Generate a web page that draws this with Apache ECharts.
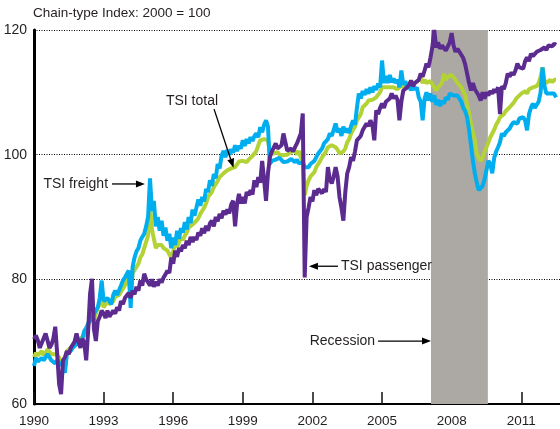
<!DOCTYPE html>
<html><head><meta charset="utf-8">
<script src="https://cdn.jsdelivr.net/npm/echarts@6/dist/echarts.min.js"></script>
<style>html,body{margin:0;padding:0;background:#fff}#c{width:560px;height:429px}</style>
</head><body><div id="c"></div>
<script>
// ---- data (monthly, starting January 1990) ----
const startYear = 1990;
const xTickLabels = ['1990','1993','1996','1999','2002','2005','2008','2011'];
const yTicks = [60, 80, 100, 120];
const recession = [2007.11, 2009.56];
const titleText = 'Chain-type Index: 2000 = 100';

const passenger = [
70.4,71.0,70.2,69.0,69.8,70.0,71.3,70.2,69.0,69.5,70.5,72.4,
68.0,63.2,61.6,67.0,67.5,68.5,68.0,69.0,69.5,70.0,71.3,70.0,
69.0,70.5,69.8,67.0,71.7,77.7,80.1,72.0,70.1,73.3,74.0,75.0,
74.5,73.8,75.0,74.0,74.2,75.0,74.5,75.5,75.0,76.5,76.0,77.0,
76.8,77.8,77.0,78.2,77.6,78.8,78.2,79.8,79.0,80.9,80.0,79.8,
79.0,80.0,78.8,79.6,79.0,80.0,79.5,80.3,80.8,81.4,81.0,83.5,
82.5,84.6,83.6,85.0,84.5,85.5,85.0,86.2,85.5,86.8,86.0,86.8,
86.3,87.5,87.0,88.2,87.4,88.6,87.8,89.0,89.4,88.5,90.0,89.3,
90.5,89.8,91.0,90.4,91.2,90.6,92.0,92.6,88.5,92.0,93.7,92.2,
93.2,92.2,94.0,93.5,94.3,93.6,95.9,94.8,96.4,95.5,99.0,96.0,
92.6,97.0,99.6,100.5,100.8,101.8,101.0,100.8,101.5,103.4,102.0,100.6,
100.8,101.0,100.5,101.2,101.8,101.5,103.4,106.6,80.3,90.0,91.5,93.2,
92.5,94.3,93.5,94.5,94.8,93.8,94.5,94.0,98.0,96.0,95.4,96.5,
98.0,96.5,93.2,91.5,89.4,94.0,97.0,98.0,99.6,99.0,100.5,102.3,
102.0,103.0,103.9,104.2,105.0,104.6,105.5,104.8,102.3,107.1,106.5,107.5,
108.2,107.5,108.5,108.2,109.0,109.8,109.0,109.5,108.8,105.5,108.5,110.3,
110.3,110.8,111.2,111.9,111.0,111.5,111.2,112.0,113.0,112.5,113.5,114.6,
114.0,115.5,117.2,120.0,117.2,118.0,117.0,117.5,117.2,116.7,117.0,118.0,
119.5,117.5,116.5,117.0,116.5,116.2,115.5,114.5,113.0,111.5,110.3,111.5,
110.5,110.8,109.5,108.7,110.0,109.0,110.0,109.5,110.2,109.8,110.5,110.0,
110.8,106.5,111.0,110.5,111.5,113.0,112.5,113.2,112.8,113.5,114.6,114.0,
114.3,113.8,115.0,115.6,115.0,116.2,115.8,116.0,116.5,116.3,116.8,116.5,
117.2,116.8,117.5,117.8,117.4,117.8,117.6
];

const freight = [
66.1,67.4,66.8,66.5,67.4,67.0,67.0,68.0,67.5,67.0,66.8,66.5,
67.0,66.8,66.4,66.0,65.0,68.0,68.2,68.5,69.0,69.3,69.6,69.5,
69.8,70.5,71.7,72.2,72.9,73.2,73.8,74.5,75.0,75.5,77.0,79.8,
76.5,76.8,77.0,76.5,76.0,77.5,78.2,77.5,77.8,79.0,79.8,80.3,
80.3,81.4,75.4,82.0,83.5,84.5,85.0,86.2,86.8,87.3,88.5,90.0,
96.2,91.0,92.6,88.5,90.0,87.8,89.4,87.0,88.3,86.2,87.3,85.0,
86.7,85.5,87.8,86.5,88.2,87.5,89.2,88.0,90.0,89.0,91.2,90.2,
91.5,92.8,91.8,93.2,92.5,94.5,94.0,95.9,95.0,96.9,96.2,98.5,
97.8,99.8,100.6,99.6,100.8,100.0,100.9,100.3,101.5,100.6,101.4,101.0,
102.3,101.4,102.5,101.8,102.8,102.2,103.0,103.4,102.8,104.4,103.6,104.8,
105.5,104.5,98.5,99.0,98.8,99.2,99.0,99.5,99.2,98.8,99.0,98.9,
98.9,99.3,99.2,98.8,99.2,98.6,98.5,98.8,98.0,98.2,98.0,98.5,
98.5,99.0,99.6,100.2,100.5,101.0,101.8,102.0,102.5,103.4,103.0,104.0,
105.0,103.6,104.2,103.0,104.5,103.6,104.2,103.5,104.6,105.5,104.8,107.5,
109.8,109.0,110.2,109.6,110.5,109.8,110.8,110.0,111.0,110.4,111.4,110.8,
115.1,111.5,112.6,111.5,112.8,111.6,112.2,111.5,112.0,110.8,113.5,111.2,
111.8,110.6,111.2,110.3,111.2,110.4,110.8,109.2,108.5,105.5,109.0,110.0,
108.7,109.8,108.5,109.5,108.0,108.8,107.8,108.6,108.2,109.2,108.8,109.8,
109.8,109.5,109.8,109.5,109.2,108.5,107.5,107.0,106.0,104.0,101.5,99.0,
97.0,95.5,94.3,94.0,95.0,96.0,97.5,99.0,98.5,97.0,99.5,100.5,
101.2,102.0,103.4,103.0,103.6,103.9,104.2,104.8,105.2,105.5,105.0,105.8,
105.8,106.0,105.5,103.9,106.5,107.5,108.2,107.5,107.8,108.5,110.0,114.0,
111.0,109.8,110.0,109.8,109.5,109.8,109.2
];

const total = [
67.5,68.2,67.8,68.0,68.5,67.8,68.2,68.8,68.5,68.0,68.3,68.0,
68.0,67.5,66.5,66.2,65.8,68.5,68.5,69.0,69.2,69.5,70.0,70.2,
70.5,70.8,71.0,71.5,72.5,74.5,76.5,73.5,74.5,75.5,76.0,77.5,
75.5,76.0,76.5,76.0,76.2,76.5,77.2,77.0,77.5,78.0,78.5,79.0,
80.0,80.5,77.0,81.0,81.5,82.0,82.5,83.5,84.0,85.0,86.0,87.0,
92.0,88.0,86.5,85.0,85.5,85.2,85.5,85.0,84.8,84.6,84.0,83.5,
84.5,85.7,85.2,86.0,86.7,86.3,87.0,87.5,88.3,88.0,88.8,89.0,
89.4,89.8,90.5,91.0,91.5,92.2,93.2,93.0,94.0,94.8,95.0,95.8,
96.4,96.2,97.0,97.2,97.5,97.3,97.8,97.6,98.0,98.3,98.9,98.7,
99.0,99.2,98.8,99.2,99.5,99.8,100.2,100.6,101.5,102.3,102.0,102.5,
102.8,102.3,100.2,100.5,100.2,100.5,100.4,100.0,100.3,99.9,100.2,100.0,
100.1,100.5,100.3,100.6,100.0,100.6,99.5,99.0,93.5,95.0,95.9,96.5,
96.5,97.2,98.0,98.5,99.0,99.6,99.8,100.5,101.2,101.0,101.5,101.2,
101.2,100.8,100.2,100.0,100.5,101.0,102.0,102.5,103.4,104.0,104.5,105.5,
105.5,106.5,107.6,107.8,108.2,108.7,108.5,108.8,109.0,109.2,109.5,110.0,
110.8,110.5,110.8,111.0,110.8,110.6,110.8,111.0,110.5,110.8,111.2,110.8,
111.0,111.4,111.2,111.5,111.8,111.5,111.8,112.0,112.4,111.5,112.0,111.5,
111.5,111.8,111.5,110.8,110.3,110.8,111.0,111.5,113.0,112.0,112.5,112.5,
112.8,112.5,112.0,111.5,111.2,110.8,110.5,109.5,108.0,106.6,105.0,103.5,
102.3,100.2,99.5,99.0,99.5,100.5,101.2,102.0,102.8,103.4,104.0,104.8,
105.3,106.0,106.0,106.5,107.0,107.2,107.6,107.8,108.3,108.8,109.2,109.5,
109.8,109.5,110.2,109.8,110.5,110.3,110.8,110.5,111.0,111.5,112.5,114.0,
111.9,111.5,111.8,112.0,111.6,112.0,112.0
];

// annotation anchors in data units: [years since 1990, index value]
const annotations = [
  {text:'TSI freight',   textAt:[3.19, 95.3],  align:'right',  from:[3.36, 95.3],  to:[4.78, 95.3]},
  {text:'TSI total',     textAt:[6.81, 108.6], align:'center', from:[7.76, 107.3], to:[8.60, 97.9]},
  {text:'TSI passenger', textAt:[13.23, 82.1], align:'left',   from:[13.10, 82.1], to:[11.85, 82.1]},
  {text:'Recession',     textAt:[14.70, 70.1], align:'right',  from:[14.83, 70.1], to:[17.11, 70.1]}
];

// ---- chart ----
const FONT = '"Liberation Sans", Arial, sans-serif';
const TXT = '#231f20';
function pts(arr){ return arr.map((v, i) => [i / 12, v]); }

const chart = echarts.init(document.getElementById('c'), null, {renderer: 'canvas'});
chart.setOption({
  animation: false,
  title: {text: titleText, left: 28, top: 1,
    textStyle: {fontFamily: FONT, fontSize: 13.5, fontWeight: 'normal', color: TXT}},
  grid: {left: 34, right: 0, top: 30, bottom: 25},
  xAxis: {
    type: 'value', min: 0, max: 22.67, interval: 3,
    axisLine: {show: true, onZero: false, lineStyle: {color: '#000', width: 2}},
    axisTick: {show: true, inside: true, length: 12, lineStyle: {color: '#111', width: 1.5}},
    axisLabel: {margin: 10, fontFamily: FONT, fontSize: 13.5, color: TXT, showMaxLabel: false,
      formatter: function (v) {
        const k = Math.round(v / 3);
        if (Math.abs(v - k * 3) > 1e-6) return '';
        return xTickLabels[k] || '';
      }},
    splitLine: {show: false}
  },
  yAxis: {
    type: 'value', min: yTicks[0], max: yTicks[yTicks.length - 1], interval: 20,
    axisLine: {show: true, lineStyle: {color: '#000', width: 3}},
    axisTick: {show: false},
    axisLabel: {margin: 7, fontFamily: FONT, fontSize: 14, color: TXT},
    splitLine: {show: true, lineStyle: {type: [1, 1.5], color: '#000', width: 1}}
  },
  series: [
    {type: 'line', data: [], z: 1, silent: true,
      markArea: {silent: true, itemStyle: {color: '#aca8a4'},
        data: [[{xAxis: recession[0] - startYear}, {xAxis: recession[1] - startYear}]]}},
    {name: 'TSI total', type: 'line', data: pts(total), symbol: 'none', showSymbol: false, z: 2,
      lineStyle: {color: '#b3d235', width: 4}},
    {name: 'TSI freight', type: 'line', data: pts(freight), symbol: 'none', showSymbol: false, z: 3,
      lineStyle: {color: '#00aeef', width: 4}},
    {name: 'TSI passenger', type: 'line', data: pts(passenger), symbol: 'none', showSymbol: false, z: 4,
      lineStyle: {color: '#5b2b8f', width: 4}}
  ]
});

function px(p){ return chart.convertToPixel({gridIndex: 0}, p); }
function arrow(p0, p1){
  const dx = p1[0] - p0[0], dy = p1[1] - p0[1];
  const L = Math.hypot(dx, dy), ux = dx / L, uy = dy / L;
  const hl = 9, hw = 3.5;
  const bx = p1[0] - ux * hl, by = p1[1] - uy * hl;
  return [
    {type: 'line', z: 100, shape: {x1: p0[0], y1: p0[1], x2: bx, y2: by},
      style: {stroke: '#000', lineWidth: 1.3}},
    {type: 'polygon', z: 100,
      shape: {points: [[p1[0], p1[1]], [bx - uy * hw, by + ux * hw], [bx + uy * hw, by - ux * hw]]},
      style: {fill: '#000'}}
  ];
}
const elements = [];
annotations.forEach(a => {
  const t = px(a.textAt);
  elements.push({type: 'text', z: 100, x: t[0], y: t[1],
    style: {text: a.text, fill: TXT, font: '14px ' + FONT,
      align: a.align, verticalAlign: 'middle', textAlign: a.align, textVerticalAlign: 'middle'}});
  elements.push(...arrow(px(a.from), px(a.to)));
});
chart.setOption({graphic: {elements: elements}});
</script>
</body></html>
